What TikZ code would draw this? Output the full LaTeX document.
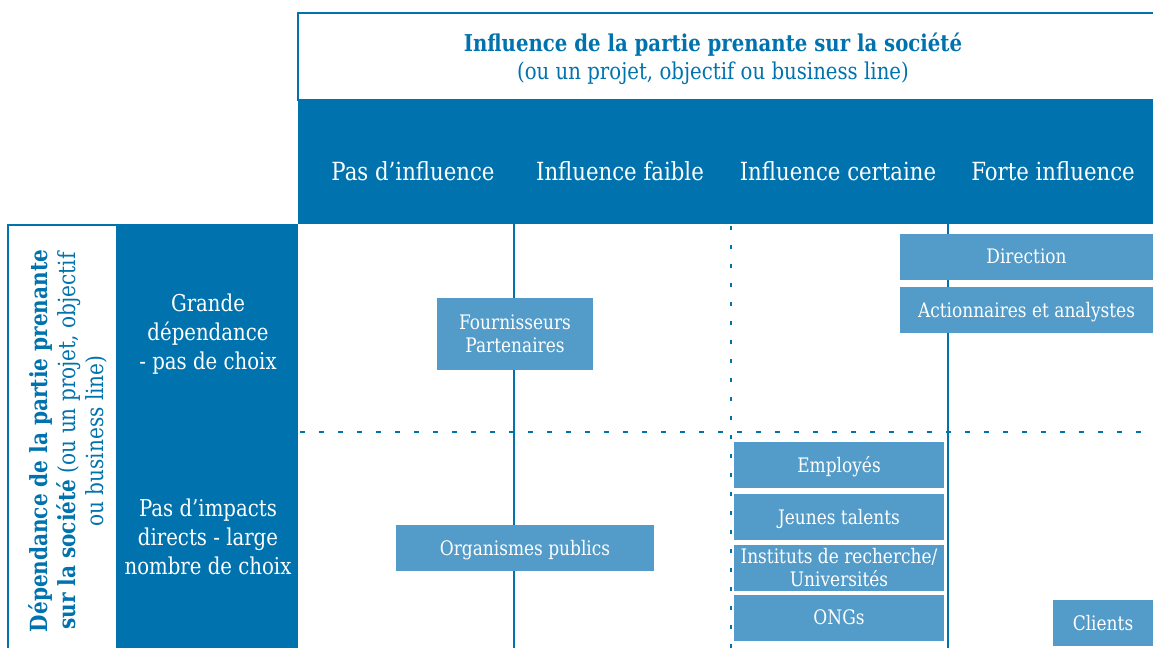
\documentclass[tikz,border=0pt]{standalone}
\usepackage{fontspec}
\setmainfont{DejaVu Serif}[FakeStretch=0.85]
\definecolor{darkblue}{RGB}{0,114,174}
\definecolor{boxblue}{RGB}{83,155,200}
\tikzset{stake/.style={fill=boxblue, text=white, inner sep=0pt, align=center,
font=\fontsize{10}{11.5}\selectfont, text depth=0.5pt, minimum height=#1},
%default height is one line box
stake/.default={23pt},
colhead/.style={text=white, font=\fontsize{12.5}{14}\selectfont},
rowhead/.style={text=white, align=center, font=\fontsize{11.6}{14.5}\selectfont},
gridline/.style={draw=darkblue, line width=1pt}}

\begin{document}
\begin{tikzpicture}[x=0.5pt,y=-0.5pt]
\useasboundingbox (0,0) rectangle (1153,648);

\draw[darkblue,line width=1pt] (298,13) rectangle (1160,100);
\fill[darkblue] (298,100) rectangle (1160,224);
\node[text=darkblue, align=center, font=\fontsize{11.6}{14}\selectfont] (title) at (713,59)
  {\textbf{Influence de la partie prenante sur la société}\\(ou un projet, objectif ou business line)};

\node[colhead] (none) at (413,171) {Pas d’influence};
\node[colhead] (weak) at (620,171) {Influence faible};
\node[colhead] (some) at (838,171) {Influence certaine};
\node[colhead] (strong) at (1053,171) {Forte influence};

\draw[darkblue,line width=1pt] (8,225) rectangle (117,660);
\fill[darkblue] (117,224) rectangle (298,660);
\node[text=darkblue, align=center, rotate=90, font=\fontsize{11.8}{14}\selectfont] (dep) at (68,441)
  {\textbf{Dépendance de la partie prenante}\\\textbf{sur la société} (ou un projet, objectif\\ou business line)};

\node[rowhead] (high) at (208,334) {Grande\\dépendance\\- pas de choix};
\node[rowhead] (low) at (208,537) {Pas d’impacts\\directs - large\\nombre de choix};

% grid
\draw[gridline] (514,224) -- (514,648);
\draw[gridline] (948,224) -- (948,648);
\draw[gridline, dash pattern=on 2pt off 7.5pt] (731,226) -- (731,648);
\draw[gridline, dash pattern=on 2.5pt off 7pt] (300,432) -- (1153,432);

% stakeholders
\node[stake=36pt, minimum width=78pt] (fourn) at (515,334) {Fournisseurs\\Partenaires};
\node[stake, minimum width=126.5pt] (direction) at (1026.5,257) {Direction};
\node[stake, minimum width=126.5pt] (action) at (1026.5,310) {Actionnaires et analystes};
\node[stake, minimum width=105pt] (employes) at (839,465) {Employés};
\node[stake, minimum width=105pt] (jeunes) at (839,517) {Jeunes talents};
\node[stake, minimum width=105pt] (instituts) at (839,568) {Instituts de recherche/\\Universités};
\node[stake, minimum width=105pt] (ongs) at (839,618) {ONGs};
\node[stake, minimum width=129pt] (organismes) at (525,548) {Organismes publics};
\node[stake, minimum width=50pt] (clients) at (1103,623) {Clients};
\end{tikzpicture}
\end{document}
